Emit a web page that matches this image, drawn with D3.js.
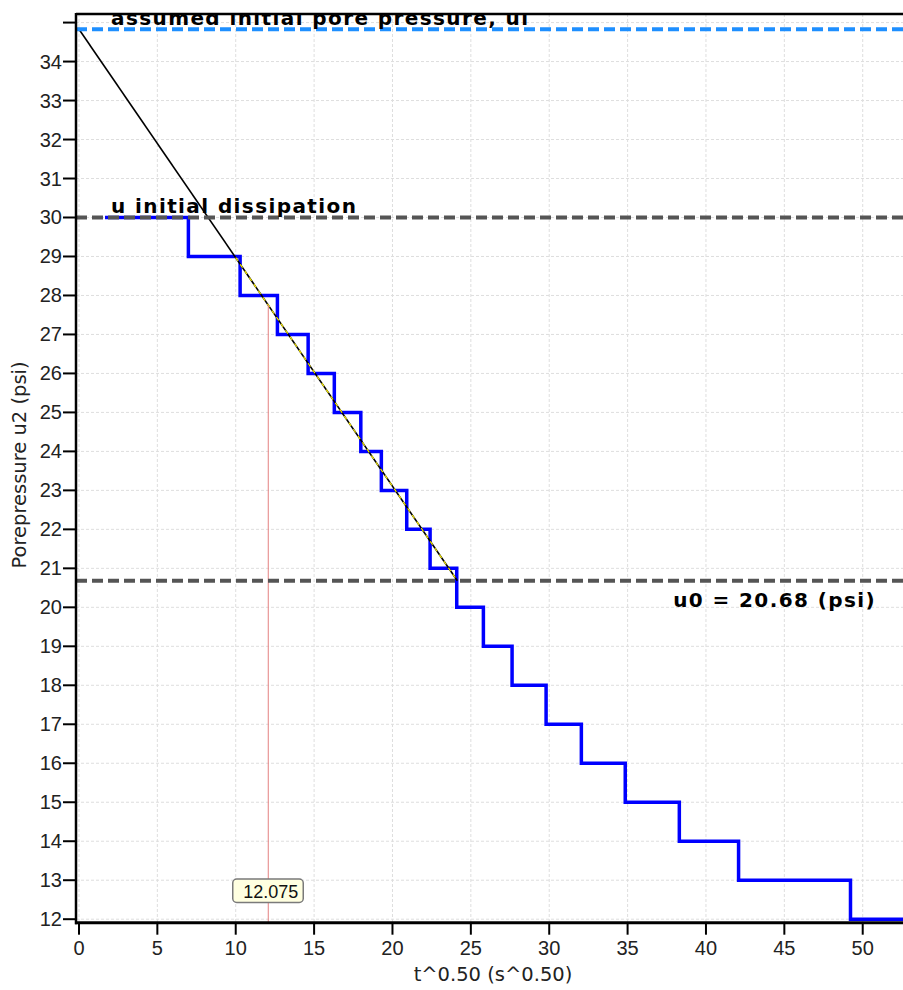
<!DOCTYPE html>
<html>
<head>
<meta charset="utf-8">
<script src="https://cdn.jsdelivr.net/npm/d3@7"></script>
<style>
  html, body { margin: 0; padding: 0; background: #fff; }
  svg { display: block; }
</style>
</head>
<body>
<div id="chart"></div>
<script>
// Dissipation record: time at which each pressure level begins (sqrt of seconds)
const stepT = [1.66, 6.98, 10.28, 12.66, 14.62, 16.29, 17.98, 19.29, 20.91, 22.40,
               24.10, 25.80, 27.63, 29.80, 32.05, 34.85, 38.30, 42.08, 49.22, 52.57];
const stepU = [30, 29, 28, 27, 26, 25, 24, 23, 22, 21,
               20, 19, 18, 17, 16, 15, 14, 13, 12, 12];

// Reference levels and the straight-line fit
const uInitialAssumed = 34.83;
const uInitialDissipation = 30;
const u0 = 20.68;
const fitT = [0, 24.14];            // fit line: from ui at t=0 to u0
const fitHighlightT = [10.0, 24.14]; // portion of the fit used on the data
const markerT = 12.075;

const xTicks = [0, 5, 10, 15, 20, 25, 30, 35, 40, 45, 50];
const yTicks = [12, 13, 14, 15, 16, 17, 18, 19, 20, 21, 22, 23, 24, 25, 26, 27, 28, 29, 30, 31, 32, 33, 34];
const yTickUnlabelled = [35];

const W = 903, H = 990;
const plot = { left: 76, right: 903, top: 14, bottom: 922.7 };

const x = d3.scaleLinear().domain([-0.19, 52.57]).range([plot.left, plot.right]);
const y = d3.scaleLinear().domain([11.91, 35.22]).range([plot.bottom, plot.top]);

const svg = d3.select("#chart").append("svg")
  .attr("width", W).attr("height", H)
  .style("font-family", "'Liberation Sans', Arial, sans-serif");

svg.append("defs").append("clipPath").attr("id", "plotClip")
  .append("rect")
  .attr("x", plot.left).attr("y", plot.top)
  .attr("width", plot.right - plot.left).attr("height", plot.bottom - plot.top);

// Grid
const grid = svg.append("g").attr("stroke", "#dedede").attr("stroke-width", 1)
  .attr("stroke-dasharray", "3,2");
grid.selectAll("line.gx").data(xTicks).join("line")
  .attr("x1", d => x(d)).attr("x2", d => x(d))
  .attr("y1", plot.top).attr("y2", plot.bottom);
grid.selectAll("line.gy").data(yTicks.concat(yTickUnlabelled)).join("line")
  .attr("x1", plot.left).attr("x2", plot.right)
  .attr("y1", d => y(d)).attr("y2", d => y(d));

const g = svg.append("g").attr("clip-path", "url(#plotClip)");

// Stepped pore-pressure record
const stepData = stepT.map((t, i) => [t, stepU[i]]);
g.append("path")
  .datum(stepData)
  .attr("fill", "none")
  .attr("stroke", "#0000ff")
  .attr("stroke-width", 3.5)
  .attr("d", d3.line().x(d => x(d[0])).y(d => y(d[1])).curve(d3.curveStepAfter));

// Linear fit from ui down to u0
const fitU = t => uInitialAssumed + (u0 - uInitialAssumed) * (t - fitT[0]) / (fitT[1] - fitT[0]);
const line = d3.line().x(d => x(d)).y(d => y(fitU(d)));
g.append("path").datum(fitT)
  .attr("fill", "none").attr("stroke", "#000").attr("stroke-width", 1.6)
  .attr("d", line);
g.append("path").datum(fitHighlightT)
  .attr("fill", "none").attr("stroke", "#f5e800").attr("stroke-width", 1.2)
  .attr("stroke-dasharray", "4,4")
  .attr("d", line);
g.append("circle")
  .attr("cx", x(0)).attr("cy", y(uInitialAssumed)).attr("r", 1.8)
  .attr("fill", "#e08a2a");

// Marker line
g.append("line")
  .attr("x1", x(markerT)).attr("x2", x(markerT))
  .attr("y1", y(fitU(markerT))).attr("y2", plot.bottom)
  .attr("stroke", "#e48080").attr("stroke-width", 1);

// Horizontal reference levels
const refs = [
  { v: uInitialAssumed, color: "#1e8fff" },
  { v: uInitialDissipation, color: "#555555" },
  { v: u0, color: "#555555" }
];
g.selectAll("line.ref").data(refs).join("line")
  .attr("x1", plot.left).attr("x2", plot.right)
  .attr("y1", d => y(d.v)).attr("y2", d => y(d.v))
  .attr("stroke", d => d.color).attr("stroke-width", 4)
  .attr("stroke-dasharray", "11,5");

// Level annotations
const boldText = (sel) => sel
  .attr("font-family", "'DejaVu Sans', Verdana, sans-serif")
  .attr("font-weight", "bold").attr("font-size", 20)
  .attr("letter-spacing", 1.4).attr("fill", "#000");
g.append("text").attr("x", 111).attr("y", y(uInitialAssumed) - 4.5)
  .text("assumed initial pore pressure, ui").call(boldText);
g.append("text").attr("x", 111).attr("y", y(uInitialDissipation) - 4.5)
  .text("u initial dissipation").call(boldText);
g.append("text").attr("x", 876).attr("y", y(u0) + 26).attr("text-anchor", "end")
  .text("u0 = " + u0.toFixed(2) + " (psi)").call(boldText);

// Marker value tag
const tag = svg.append("g").attr("transform", `translate(${x(markerT)},891)`);
tag.append("rect")
  .attr("x", -35.5).attr("y", -12).attr("width", 70.5).attr("height", 23.5)
  .attr("rx", 4).attr("fill", "#ffffe0").attr("stroke", "#7a7a7a").attr("stroke-width", 1.5);
tag.append("text").attr("x", 2.5).attr("y", 6.5).attr("text-anchor", "middle")
  .attr("font-size", 18).attr("fill", "#111").text(markerT.toFixed(3));

// Axes
const axes = svg.append("g").attr("stroke", "#000");
axes.append("line").attr("x1", plot.left).attr("x2", plot.right)
  .attr("y1", plot.top).attr("y2", plot.top).attr("stroke-width", 2.5);
axes.append("line").attr("x1", plot.left).attr("x2", plot.left)
  .attr("y1", plot.top - 1).attr("y2", plot.bottom + 1.5).attr("stroke-width", 2.5);
axes.append("line").attr("x1", plot.left - 1).attr("x2", plot.right)
  .attr("y1", plot.bottom).attr("y2", plot.bottom).attr("stroke-width", 3);

axes.selectAll("line.yt").data(yTicks.concat(yTickUnlabelled)).join("line")
  .attr("x1", plot.left - 13).attr("x2", plot.left)
  .attr("y1", d => y(d)).attr("y2", d => y(d)).attr("stroke-width", 2);
axes.selectAll("line.xt").data(xTicks).join("line")
  .attr("x1", d => x(d)).attr("x2", d => x(d))
  .attr("y1", plot.bottom).attr("y2", plot.bottom + 12).attr("stroke-width", 2);

svg.append("g").selectAll("text").data(yTicks).join("text")
  .attr("x", 62).attr("y", d => y(d)).attr("dy", "0.35em")
  .attr("text-anchor", "end").attr("font-size", 20).attr("fill", "#222")
  .text(d => d);
svg.append("g").selectAll("text").data(xTicks).join("text")
  .attr("x", d => x(d)).attr("y", 955)
  .attr("text-anchor", "middle").attr("font-size", 20).attr("fill", "#222")
  .text(d => d);

// Axis titles
svg.append("text").attr("x", 493).attr("y", 981).attr("text-anchor", "middle")
  .attr("font-family", "'DejaVu Sans', Verdana, sans-serif")
  .attr("font-size", 19.5).attr("fill", "#222").text("t^0.50 (s^0.50)");
svg.append("text").attr("transform", "translate(26,465) rotate(-90)")
  .attr("text-anchor", "middle")
  .attr("font-family", "'DejaVu Sans', Verdana, sans-serif")
  .attr("font-size", 19.5).attr("fill", "#222").text("Porepressure u2 (psi)");
</script>
</body>
</html>
